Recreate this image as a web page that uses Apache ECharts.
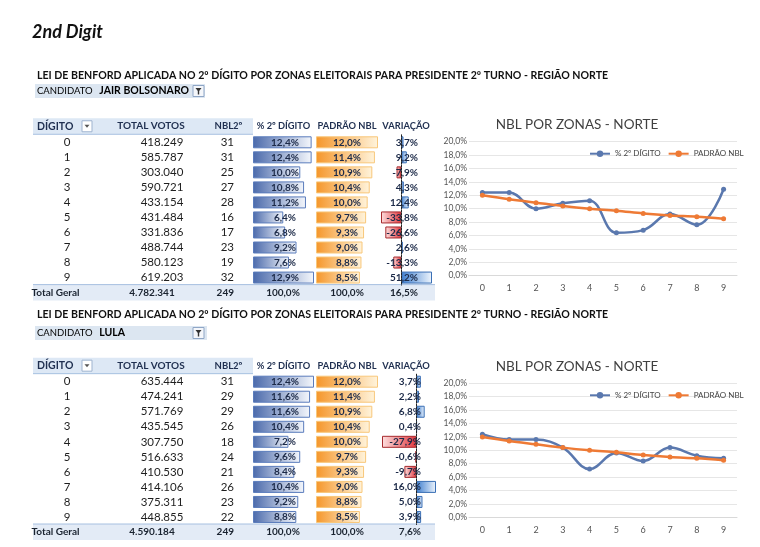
<!DOCTYPE html>
<html><head><meta charset="utf-8">
<script src="https://cdn.jsdelivr.net/npm/echarts@6/dist/echarts.min.js"></script>
<style>html,body{margin:0;padding:0;background:#fff}#c{width:760px;height:547px}</style>
</head><body><div id="c"></div>
<script>
// ---------- DATA ----------
const digits = ['0','1','2','3','4','5','6','7','8','9'];
const padraoNbl = [12.0, 11.4, 10.9, 10.4, 10.0, 9.7, 9.3, 9.0, 8.8, 8.5];

const bolsoVotes = ['418.249','585.787','303.040','590.721','433.154','431.484','331.836','488.744','580.123','619.203'];
const bolsoNbl   = [31, 31, 25, 27, 28, 16, 17, 23, 19, 32];
const bolsoPct   = [12.4, 12.4, 10.0, 10.8, 11.2, 6.4, 6.8, 9.2, 7.6, 12.9];
const bolsoVar   = [3.7, 9.2, -7.9, 4.3, 12.4, -33.8, -26.6, 2.6, -13.3, 51.2];
const bolsoTotals = ['Total Geral', '4.782.341', '249', '100,0%', '100,0%', '16,5%'];

const lulaVotes = ['635.444','474.241','571.769','435.545','307.750','516.633','410.530','414.106','375.311','448.855'];
const lulaNbl   = [31, 29, 29, 26, 18, 24, 21, 26, 23, 22];
const lulaPct   = [12.4, 11.6, 11.6, 10.4, 7.2, 9.6, 8.4, 10.4, 9.2, 8.8];
const lulaVar   = [3.7, 2.2, 6.8, 0.4, -27.9, -0.6, -9.7, 16.0, 5.0, 3.9];
const lulaTotals = ['Total Geral', '4.590.184', '249', '100,0%', '100,0%', '7,6%'];

const headers = ['DÍGITO', 'TOTAL VOTOS', 'NBL2º', '% 2º DÍGITO', 'PADRÃO NBL', 'VARIAÇÃO'];
const seriesNames = ['% 2º DÍGITO', 'PADRÃO NBL'];
const mainTitle = '2nd Digit';
const tableTitle = 'LEI DE BENFORD APLICADA NO 2º DÍGITO POR ZONAS ELEITORAIS PARA PRESIDENTE 2º TURNO - REGIÃO NORTE';
const chartTitle = 'NBL POR ZONAS - NORTE';

// ---------- LAYOUT / STYLE ----------
const FONT = 'Lato, "Noto Sans", sans-serif';
const ROW = 15.03;
const pctFmt = v => v.toFixed(1).replace('.', ',') + '%';
const G = echarts.graphic;
const grad = (c0, c1) => new G.LinearGradient(0, 0, 1, 0, [{offset: 0, color: c0}, {offset: 1, color: c1}]);

const option = {
  animation: false,
  backgroundColor: '#fff',
  textStyle: {fontFamily: FONT},
  grid: [], xAxis: [], yAxis: [], series: [], legend: [], graphic: []
};
function addGrid(g) { option.grid.push(g); return option.grid.length - 1; }

function textColumn(top, x, labels, o) {
  const gi = addGrid({left: x, top: top, width: 1, height: 11 * ROW});
  option.xAxis.push({type: 'value', gridIndex: gi, show: false});
  option.yAxis.push({
    type: 'category', gridIndex: gi, inverse: true, data: labels, position: 'left', z: 10,
    axisLine: {show: false}, axisTick: {show: false}, splitLine: {show: false},
    axisLabel: {
      interval: 0, margin: 0, align: o.align, fontFamily: FONT, fontSize: o.size,
      fontWeight: o.weight || 'normal', color: o.color || '#1e1e1e',
      formatter: (v, i) => i === 10 ? '{t|' + v + '}' : v,
      rich: {t: {fontFamily: FONT, fontWeight: 'bold', fontSize: 10, color: '#1a2330', padding: o.tpad || [0,0,0,0]}}
    }
  });
}

function barColumn(top, left, width, values, kind) {
  const gi = addGrid({left: left, top: top, width: width, height: 10 * ROW});
  option.xAxis.push({type: 'value', gridIndex: gi, show: false,
    min: kind === 'var' ? 'dataMin' : 0, max: 'dataMax'});
  option.yAxis.push({type: 'category', gridIndex: gi, inverse: true, data: digits,
    show: kind === 'var', z: 6,
    axisLabel: {show: false}, axisTick: {show: false}, splitLine: {show: false},
    axisLine: {show: kind === 'var', onZero: true, lineStyle: {color: '#222', width: 1, type: [2, 1]}}});
  const idx = option.xAxis.length - 1;
  const style = v => {
    if (kind === 'pct') return {color: grad('#4b6aab', '#f4f7fc'), borderColor: '#5a7cbc', borderWidth: 1};
    if (kind === 'nbl') return {color: grad('#f5962a', '#fff4dc'), borderColor: '#f8c77a', borderWidth: 1};
    return v >= 0
      ? {color: grad('#3f7fcf', '#eef5fd'), borderColor: '#3a6fb5', borderWidth: 1}
      : {color: grad('#fde0e0', '#e2383e'), borderColor: '#a62a2e', borderWidth: 1};
  };
  option.series.push({type: 'bar', xAxisIndex: idx, yAxisIndex: idx, barWidth: 12, silent: true,
    data: values.map(v => ({value: v, itemStyle: style(v)}))});
}

function table(cfg) {
  const top = cfg.row0 - ROW / 2;
  const tt = cfg.totals;
  // bars
  barColumn(top, 253, 61, cfg.pct, 'pct');
  barColumn(top, 316, 62, padraoNbl, 'nbl');
  barColumn(top, cfg.varLeft, cfg.varWidth, cfg.vari, 'var');
  // text columns
  textColumn(top, 67, digits.concat([tt[0]]), {align: 'center', size: 11.5, tpad: [0, 23, 0, 0]});
  textColumn(top, 162, cfg.votes.concat([tt[1]]), {align: 'center', size: 11.5, tpad: [0, 20, 0, 0]});
  textColumn(top, 234, cfg.nbl.map(String).concat([tt[2]]), {align: 'right', size: 11.5, tpad: [0, 0, 0, 0]});
  textColumn(top, 285, cfg.pct.map(pctFmt).concat([tt[3]]), {align: 'center', size: 10, weight: 'bold', color: '#1c2a48', tpad: [0, 4, 0, 0]});
  textColumn(top, 347, padraoNbl.map(pctFmt).concat([tt[4]]), {align: 'center', size: 10, weight: 'bold', color: '#1c2a48'});
  textColumn(top, cfg.varRight, cfg.vari.map(pctFmt).concat([tt[5]]), {align: 'right', size: 10, weight: 'bold', color: '#1c2a48'});

  const hy = cfg.row0 - ROW - 1;   // header centre
  const ty = cfg.row0 + 10 * ROW;  // total centre
  const gr = option.graphic;
  // header band
  gr.push({type: 'rect', z: -1, shape: {x: 33, y: hy - 8, width: 220, height: 16}, style: {fill: '#dde8f5'}});
  gr.push({type: 'line', z: -1, shape: {x1: 33, y1: hy + 8, x2: 253, y2: hy + 8}, style: {stroke: '#a7c0e0', lineWidth: 1}});
  // total band
  gr.push({type: 'rect', z: -1, shape: {x: 33, y: ty - 8, width: 402, height: 16}, style: {fill: '#e3ebf6'}});
  gr.push({type: 'line', z: -1, shape: {x1: 33, y1: ty - 8, x2: 435, y2: ty - 8}, style: {stroke: '#a7c0e0', lineWidth: 1}});
  const hs = (t, x, align, size) => gr.push({type: 'text', x: x, y: hy, z: 20, style: {text: t, x: 0, y: 0, align: align, verticalAlign: 'middle',
      font: 'bold ' + size + 'px ' + FONT, fill: '#1f2f50'}});
  hs(headers[0], 37, 'left', 10.5);
  hs(headers[1], 151, 'center', 10);
  hs(headers[2], 228.5, 'center', 9.5);
  hs(headers[3], 283.5, 'center', 9.3);
  hs(headers[4], 347, 'center', 9.3);
  hs(headers[5], 406, 'center', 9.3);
  // dropdown box
  gr.push({type: 'rect', z: 20, shape: {x: 82, y: hy - 5.5, width: 10, height: 11}, style: {fill: '#fff', stroke: '#9fb3cf', lineWidth: 1}});
  gr.push({type: 'polygon', z: 21, shape: {points: [[84.5, hy - 1.5], [89.5, hy - 1.5], [87, hy + 1.5]]}, style: {fill: '#555'}});

  // titles
  gr.push({type: 'text', x: 37, y: cfg.titleY, z: 20, style: {text: tableTitle, verticalAlign: 'middle', font: 'bold 10.6px ' + FONT, fill: '#111'}});
  gr.push({type: 'rect', z: -1, shape: {x: 35, y: cfg.candY - 7, width: cfg.candW, height: 14}, style: {fill: '#dce6f1'}});
  gr.push({type: 'text', x: 37, y: cfg.candY, z: 20, style: {
    text: '{a|CANDIDATO}  {b|' + cfg.name + '}', verticalAlign: 'middle',
    rich: {a: {fontFamily: FONT, fontSize: 9.5, color: '#2c4770'},
           b: {fontFamily: FONT, fontSize: 10.5, fontWeight: 'bold', color: '#111'}}}});
  gr.push({type: 'rect', z: 20, shape: {x: 193, y: cfg.candY - 5.5, width: 11, height: 11}, style: {fill: '#f4f6fa', stroke: '#8fa6c6', lineWidth: 1}});
  gr.push({type: 'polygon', z: 21, shape: {points: [[195.5, cfg.candY - 3], [201.5, cfg.candY - 3], [199.2, cfg.candY], [199.2, cfg.candY + 3.5], [197.8, cfg.candY + 3.5], [197.8, cfg.candY]]}, style: {fill: '#333'}});
}

function lineChart(cfg) {
  const gi = addGrid({left: 469, top: cfg.top, width: 268, height: 134});
  option.xAxis.push({type: 'category', gridIndex: gi, data: digits, boundaryGap: true,
    axisLine: {lineStyle: {color: '#d9d9d9'}}, axisTick: {show: false},
    axisLabel: {margin: 8, fontSize: 9, color: '#555', fontFamily: FONT}});
  option.yAxis.push({type: 'value', gridIndex: gi, min: 0, max: 20, interval: 2,
    axisLine: {show: false}, axisTick: {show: false},
    splitLine: {lineStyle: {color: '#e6e6e6'}},
    axisLabel: {margin: 2, fontSize: 8.5, color: '#555', fontFamily: FONT, formatter: v => pctFmt(v)}});
  const idx = option.xAxis.length - 1;
  option.series.push({type: 'line', name: seriesNames[0], xAxisIndex: idx, yAxisIndex: idx, data: cfg.pct,
    smooth: 0.4, symbol: 'circle', symbolSize: 5, lineStyle: {width: 2.5, color: '#5a78ae'}, itemStyle: {color: '#5a78ae'}, z: 3});
  option.series.push({type: 'line', name: seriesNames[1], xAxisIndex: idx, yAxisIndex: idx, data: padraoNbl,
    smooth: 0.35, symbol: 'circle', symbolSize: 5, lineStyle: {width: 2.5, color: '#ee7a35'}, itemStyle: {color: '#ee7a35'}, z: 4});
  option.legend.push({data: seriesNames, left: 584, top: cfg.top + 3, itemWidth: 20, itemHeight: 8, itemGap: 7,
    textStyle: {fontSize: 8, color: '#444', fontFamily: FONT}, selectedMode: false});
  option.graphic.push({type: 'text', x: 577, y: cfg.titleY, z: 20, style: {text: chartTitle, align: 'center', verticalAlign: 'middle',
    font: '13.5px ' + FONT, fill: '#404040'}});
}

option.graphic.push({type: 'text', x: 32, y: 32, style: {text: mainTitle, verticalAlign: 'middle', font: 'italic bold 18px ' + FONT, fill: '#111'}});

table({row0: 142.3, pct: bolsoPct, vari: bolsoVar, votes: bolsoVotes, nbl: bolsoNbl, totals: bolsoTotals,
  varLeft: 381, varWidth: 51, varRight: 418, titleY: 76, candY: 91, candW: 170, name: 'JAIR BOLSONARO'});
table({row0: 381.7, pct: lulaPct, vari: lulaVar, votes: lulaVotes, nbl: lulaNbl, totals: lulaTotals,
  varLeft: 382, varWidth: 54, varRight: 421, titleY: 315, candY: 333, candW: 172, name: 'LULA'});
lineChart({top: 141.7, titleY: 125, pct: bolsoPct});
lineChart({top: 383.3, titleY: 367, pct: lulaPct});

const chart = echarts.init(document.getElementById('c'), null, {renderer: 'canvas'});
chart.setOption(option);
</script></body></html>
